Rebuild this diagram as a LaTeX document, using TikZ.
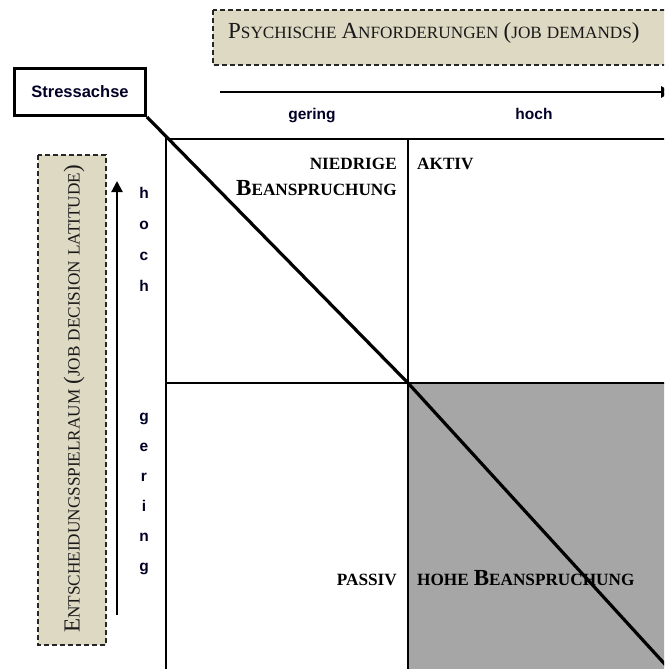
\documentclass[tikz,border=0pt]{standalone}
\usepackage{fontspec}
\setmainfont{Liberation Serif}
\setsansfont{Liberation Sans}
\usetikzlibrary{arrows.meta}
\definecolor{tanfill}{HTML}{DDD9C3}
\definecolor{quadshade}{HTML}{A6A6A6}
% hand-made small capitals: large initial, smaller capitals
\newcommand\capL[1]{{\fontsize{23}{23}\selectfont #1}}
\newcommand\capS[1]{{\fontsize{17.2}{17.2}\selectfont #1}}
\newcommand\wsp{\hspace{5pt}}
\tikzset{
  axisbox/.style={draw=black!85, dash pattern=on 5pt off 3pt, fill=tanfill, line width=1.3pt},
  gridline/.style={line width=2pt},
  celltext/.style={font=\bfseries\fontsize{17.2}{26}\selectfont, inner sep=0pt},
  titletext/.style={inner sep=0pt, text=black!90},
  ticktext/.style={font=\sffamily\bfseries\fontsize{15.5}{15.5}\selectfont, inner sep=0pt, text=black!85!blue},
  axisarrow/.style={line width=2.8pt, -{Triangle[length=11pt,width=11pt]}},
  stressbox/.style={draw, line width=3pt, fill=white, minimum width=131pt, minimum height=47pt,
    inner sep=0pt, font=\sffamily\bfseries\fontsize{16.5}{16.5}\selectfont, text=black!85!blue},
}
\begin{document}
\begin{tikzpicture}[x=1pt,y=-1pt]
\useasboundingbox (0,0) rectangle (664,669);
\clip (0,0) rectangle (664,669);

% grid corners and the centre of the four-field scheme
\coordinate (tl) at (166,139);
\coordinate (tm) at (408,139);
\coordinate (tr) at (672,139);
\coordinate (ml) at (166,383);
\coordinate (cc) at (408,383);
\coordinate (mr) at (672,383);
\coordinate (bl) at (166,676);
\coordinate (bm) at (408,676);
\coordinate (br) at (672,676);
\coordinate (diagend) at (672,672);

% shaded high-strain quadrant
\fill[quadshade] (cc) rectangle (br);

% four-field grid
\draw[gridline] (bl) -- (tl) -- (tr);
\draw[gridline] (tm) -- (bm);
\draw[gridline] (ml) -- (mr);

% demands axis (top)
\draw[axisbox] (213,10) rectangle (700,65);
\node[titletext, anchor=base west] (demands) at (228,38)
  {\capL{P}\capS{SYCHISCHE}\wsp\capL{A}\capS{NFORDERUNGEN}\wsp\capL{(}\capS{JOB}\wsp\capS{DEMANDS}\capL{)}};
\coordinate (harrowstart) at (220,92);
\coordinate (harrowend) at (672,92);
\draw[axisarrow] (harrowstart) -- (harrowend);
\node[ticktext, anchor=base] (hlow) at (312,119) {gering};
\node[ticktext, anchor=base] (hhigh) at (534,119) {hoch};

% decision latitude axis (left)
\draw[axisbox] (38,155) rectangle (106,645);
\node[titletext, rotate=90] (latitude) at (74,399)
  {\capL{E}\capS{NTSCHEIDUNGSSPIELRAUM}\wsp\capL{(}\capS{JOB}\wsp\capS{DECISION}\wsp\capS{LATITUDE}\capL{)}};
\coordinate (varrowstart) at (117,615);
\coordinate (varrowend) at (117,181);
\draw[line width=2.2pt, -{Triangle[length=11pt,width=11pt]}] (varrowstart) -- (varrowend);
\foreach \ch/\yy [count=\i] in {h/198, o/229, c/260, h/291}
  \node[ticktext, anchor=base] (vhigh\i) at (144,\yy) {\ch};
\foreach \ch/\yy [count=\i] in {g/421, e/451, r/481, i/511, n/541, g/571}
  \node[ticktext, anchor=base] (vlow\i) at (144,\yy) {\ch};

% quadrant labels
\node[celltext, anchor=base east, align=right] (lowstrain) at (397,195)
  {\capS{NIEDRIGE}\\\capL{B}\capS{EANSPRUCHUNG}};
\node[celltext, anchor=base west] (active) at (417,169) {\capS{AKTIV}};
\node[celltext, anchor=base east] (passive) at (397,585) {\capS{PASSIV}};
\node[celltext, anchor=base west] (highstrain) at (417,585)
  {\capS{HOHE}\wsp\capL{B}\capS{EANSPRUCHUNG}};

% stress axis
\node[stressbox] (stress) at (80,92) {Stressachse};
\draw[line width=3.2pt] (stress.south east) -- (cc) -- (diagend);
\end{tikzpicture}
\end{document}
